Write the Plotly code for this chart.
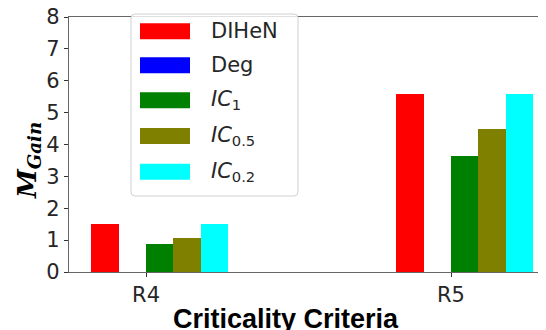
import plotly.graph_objects as go

categories = ["R4", "R5"]
series_names = ["DIHeN", "Deg", "<i>IC</i><sub>1</sub>", "<i>IC</i><sub>0.5</sub>", "<i>IC</i><sub>0.2</sub>"]
series_colors = ["#ff0000", "#0000ff", "#008000", "#808000", "#00ffff"]
dihen = [1.52, 5.6]
deg = [0.0, 0.0]
ic1 = [0.87, 3.65]
ic05 = [1.08, 4.48]
ic02 = [1.52, 5.6]
series_values = [dihen, deg, ic1, ic05, ic02]
y_ticks = [0, 1, 2, 3, 4, 5, 6, 7, 8]

# the page body has an 8px margin, so the figure is shifted by 8px
OFF = 8
W, H = 546 - OFF, 330 - OFF
PLOT_L, PLOT_R, PLOT_T, PLOT_B = 69, 546, 17, 272   # page pixels
L, T = PLOT_L - OFF, PLOT_T - OFF
R = W - (PLOT_R - OFF)
B = H - (PLOT_B - OFF)
PW, PH = PLOT_R - PLOT_L, PLOT_B - PLOT_T
bar_w = 0.09
xpos = list(range(len(categories)))

def px(x):
    return (x - PLOT_L) / PW

def py(y):
    return (PLOT_B - y) / PH

fig = go.Figure()
for i, (name, color, vals) in enumerate(zip(series_names, series_colors, series_values)):
    fig.add_trace(go.Bar(
        x=xpos, y=vals, name=name, width=bar_w, offset=(i - 2) * bar_w,
        marker=dict(color=color, line=dict(width=0)), showlegend=False,
    ))

# custom legend (wide swatches like the original)
x0, x1, y0, y1, r = px(131), px(298), py(14), py(196), 4
rx, ry = r / PW, r / PH
path = (f"M{x0+rx},{y0} L{x1-rx},{y0} Q{x1},{y0} {x1},{y0-ry} "
        f"L{x1},{y1+ry} Q{x1},{y1} {x1-rx},{y1} L{x0+rx},{y1} Q{x0},{y1} {x0},{y1+ry} "
        f"L{x0},{y0-ry} Q{x0},{y0} {x0+rx},{y0} Z")
shapes = [dict(type="path", xref="paper", yref="paper", path=path,
               fillcolor="rgba(255,255,255,0.8)", line=dict(color="#d0d0d0", width=1))]
annotations = []
row_centers = [31.3, 65.3, 100.3, 136, 171.7]
for name, color, yc in zip(series_names, series_colors, row_centers):
    shapes.append(dict(type="rect", xref="paper", yref="paper",
                       x0=px(140), x1=px(190), y0=py(yc + 8), y1=py(yc - 8),
                       fillcolor=color, line=dict(width=0)))
    annotations.append(dict(x=px(209), y=py(yc), xref="paper", yref="paper",
                            text=name, showarrow=False, xanchor="left", yanchor="middle",
                            font=dict(family="DejaVu Sans", size=21, color="#262626")))

annotations.append(dict(x=px(28), y=py(161), xref="paper", yref="paper",
                        text="<b><i>M</i><sub><i>Gain</i></sub></b>", textangle=-90,
                        showarrow=False, xanchor="center", yanchor="middle",
                        font=dict(family="DejaVu Serif", size=26, color="black")))
annotations.append(dict(x=px(286), y=py(302), xref="paper", yref="paper",
                        text="<b>Criticality Criteria</b>", showarrow=False,
                        xanchor="center", yanchor="top",
                        font=dict(family="Liberation Sans", size=27, color="black")))

fig.update_layout(
    width=W, height=H, margin=dict(l=L, r=R, t=T, b=B),
    plot_bgcolor="white", paper_bgcolor="white",
    barmode="overlay", bargap=0,
    shapes=shapes, annotations=annotations,
    xaxis=dict(range=[-0.2525, 1.3115], tickvals=xpos, ticktext=categories,
               showline=True, linecolor="#666", linewidth=1.2, mirror=True,
               ticks="outside", ticklen=4, tickcolor="#333", showgrid=False, zeroline=False,
               automargin=False, ticklabeloverflow="allow",
               tickfont=dict(family="DejaVu Sans", size=21, color="#262626")),
    yaxis=dict(range=[0, 8], tickvals=y_ticks,
               showline=True, linecolor="#666", linewidth=1.2, mirror=False,
               ticks="outside", ticklen=4, tickcolor="#333", showgrid=False, zeroline=False,
               automargin=False, ticklabeloverflow="allow",
               tickfont=dict(family="DejaVu Sans", size=21, color="#262626")),
)
fig.write_html("out.html")
